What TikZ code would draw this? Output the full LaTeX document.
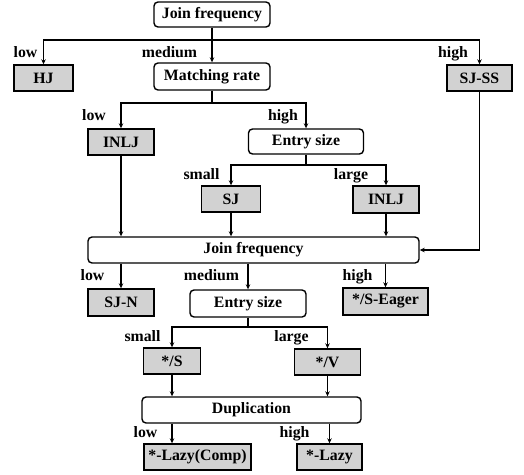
\documentclass[tikz,border=0pt]{standalone}
\usepackage{fontspec}
\setmainfont{Liberation Serif}
\usetikzlibrary{arrows.meta}
\definecolor{boxgray}{RGB}{210,210,210}
\begin{document}
\begin{tikzpicture}[x=1pt,y=-1pt,
  every node/.style={font=\fontsize{15.8}{18}\selectfont\bfseries, inner sep=0pt},
  dec/.style={draw, line width=1.4pt, rounded corners=4pt},
  res/.style={draw, line width=1.4pt, fill=boxgray},
  lbl/.style={anchor=base},
  arr/.style={line width=1.4pt, -{Stealth[length=5pt,width=4.5pt]}},
  ln/.style={line width=1.4pt}]
\useasboundingbox (0,0) rectangle (524,474);
% nodes
\node[dec, minimum width=116pt, minimum height=25pt] (jf1) at (212,14.5) {Join frequency};
\node[res, minimum width=59pt, minimum height=26pt] (hj) at (43.5,78) {HJ};
\node[dec, minimum width=116pt, minimum height=27pt] (mr) at (212,76.5) {Matching rate};
\node[res, minimum width=65pt, minimum height=26pt] (sjss) at (479.5,78) {SJ-SS};
\node[res, minimum width=66pt, minimum height=26pt] (inlja) at (121,142) {INLJ};
\node[dec, minimum width=115pt, minimum height=25pt] (esa) at (306,141.5) {Entry size};
\node[res, minimum width=59pt, minimum height=26pt] (sj) at (231,199) {SJ};
\node[res, minimum width=66pt, minimum height=27pt] (inljb) at (386,199.5) {INLJ};
\node[dec, minimum width=331pt, minimum height=26pt] (jf2) at (253.5,250) {Join frequency};
\node[res, minimum width=66pt, minimum height=27pt] (sjn) at (121,302.5) {SJ-N};
\node[dec, minimum width=116pt, minimum height=27pt] (esb) at (248,303.5) {Entry size};
\node[res, minimum width=85pt, minimum height=27pt] (seager) at (385.5,301.5) {*/S-Eager};
\node[res, minimum width=57pt, minimum height=26pt] (s) at (172,361) {*/S};
\node[res, minimum width=66pt, minimum height=26pt] (v) at (327.5,362) {*/V};
\node[dec, minimum width=219pt, minimum height=26pt] (dup) at (251.5,410) {Duplication};
\node[res, minimum width=107pt, minimum height=26pt] (lc) at (197.5,457) {*-Lazy(Comp)};
\node[res, minimum width=65pt, minimum height=26pt] (lazy) at (329.5,457) {*-Lazy};
% branch points
\coordinate (b1) at (212,40);
\coordinate (b2) at (212,103);
\coordinate (b3) at (306,165);
\coordinate (b4) at (248,327);
% connectors level 1
\draw[ln] (jf1.south) -- (b1);
\draw[arr] (b1) -| (hj.north);
\draw[arr] (b1) -| (sjss.north);
\draw[arr] (b1) -- (mr.north);
% level 2
\draw[ln] (mr.south) -- (b2);
\draw[arr] (b2) -| (inlja.north);
\draw[arr] (b2) -| (esa.north);
% level 3
\draw[ln] (esa.south) -- (b3);
\draw[arr] (b3) -| (sj.north);
\draw[arr] (b3) -| (inljb.north);
% into jf2
\draw[arr] (inlja.south) -- (inlja.south |- jf2.north);
\draw[arr] (sj.south) -- (sj.south |- jf2.north);
\draw[arr] (inljb.south) -- (inljb.south |- jf2.north);
\draw[arr] (sjss.south) |- (jf2.east);
% out of jf2
\draw[arr] (jf2.south -| sjn.north) -- (sjn.north);
\draw[arr] (jf2.south -| esb.north) -- (esb.north);
\draw[arr] (jf2.south -| seager.north) -- (seager.north);
% entry size 2
\draw[ln] (esb.south) -- (b4);
\draw[arr] (b4) -| (s.north);
\draw[arr] (b4) -| (v.north);
% into dup
\draw[arr] (s.south) -- (s.south |- dup.north);
\draw[arr] (v.south) -- (v.south |- dup.north);
% out of dup
\draw[arr] (dup.south -| s.south) -- (s.south |- lc.north);
\draw[arr] (dup.south -| lazy.north) -- (lazy.north);
% labels
\node[lbl] (l1) at (25.5,57) {low};
\node[lbl] (m1) at (169.5,57) {medium};
\node[lbl] (h1) at (453,57) {high};
\node[lbl] (l2) at (94,120) {low};
\node[lbl] (h2) at (283,120) {high};
\node[lbl] (s1) at (201.5,179) {small};
\node[lbl] (g1) at (351,179) {large};
\node[lbl] (l3) at (92.5,280) {low};
\node[lbl] (m2) at (211.5,280) {medium};
\node[lbl] (h3) at (357.5,280) {high};
\node[lbl] (s2) at (142.5,341) {small};
\node[lbl] (g2) at (291.5,341) {large};
\node[lbl] (l4) at (145.5,437) {low};
\node[lbl] (h4) at (294.5,437) {high};
\end{tikzpicture}
\end{document}
